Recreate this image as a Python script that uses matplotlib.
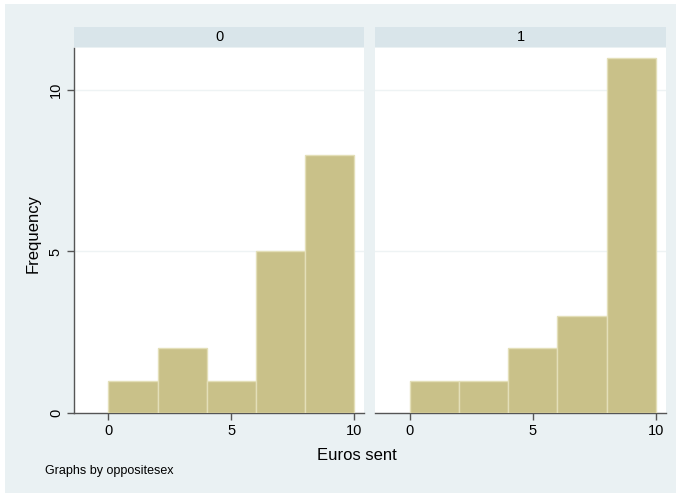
import matplotlib
matplotlib.use("Agg")
import matplotlib.pyplot as plt
from matplotlib.patches import Rectangle
import numpy as np

plt.rcParams['font.family'] = ['Liberation Sans', 'DejaVu Sans']

# histogram bins (euros sent) and frequencies for each oppositesex group
bin_edges = [0, 2, 4, 6, 8, 10]
groups = ["0", "1"]
freq_0 = [1, 2, 1, 5, 8]
freq_1 = [1, 1, 2, 3, 11]
yticks = [0, 5, 10]
xticks = [0, 5, 10]

bar_color = '#c9c189'
bar_edge = '#e3dfb8'
outer_bg = '#eaf1f3'
strip_bg = '#d9e5ea'
grid_color = '#eef3f4'
axis_color = '#555555'

W, H = 680, 497
fig = plt.figure(figsize=(W / 100, H / 100), dpi=100)
fig.patch.set_facecolor('white')
fig.patches.append(Rectangle((5 / W, 1 - 493 / H), 671 / W, 489 / H,
                             transform=fig.transFigure, facecolor=outer_bg,
                             edgecolor='none', zorder=-10))

def px(x0, x1, y0, y1):
    return [x0 / W, 1 - y1 / H, (x1 - x0) / W, (y1 - y0) / H]

panels = [(74, 364), (375, 666)]
for i, (freqs, (x0, x1)) in enumerate(zip([freq_0, freq_1], panels)):
    ax = fig.add_axes(px(x0, x1, 48, 413))
    ax.set_facecolor('white')
    lefts = np.array(bin_edges[:-1])
    widths = np.diff(bin_edges)
    ax.bar(lefts, freqs, width=widths, align='edge', color=bar_color,
           edgecolor=bar_edge, linewidth=1.0, zorder=3)
    ax.set_xlim(-1.4, 10.4)
    ax.set_ylim(0, 11.3)
    for y in yticks[1:]:
        ax.axhline(y, color=grid_color, linewidth=1.0, zorder=1)
    for s in ['top', 'right']:
        ax.spines[s].set_visible(False)
    ax.spines['bottom'].set_color(axis_color)
    ax.spines['bottom'].set_linewidth(1.0)
    ax.set_xticks(xticks)
    ax.tick_params(axis='x', direction='out', length=5, width=1.0,
                   color=axis_color, labelsize=10.5, pad=3)
    if i == 0:
        ax.spines['left'].set_color(axis_color)
        ax.spines['left'].set_linewidth(1.0)
        ax.set_yticks(yticks)
        ax.set_yticklabels([str(t) for t in yticks], rotation=90, va='center')
        ax.tick_params(axis='y', direction='out', length=5, width=1.0,
                       color=axis_color, labelsize=10.5, pad=3)
    else:
        ax.spines['left'].set_visible(False)
        ax.set_yticks([])

    # group strip above each panel
    sx = fig.add_axes(px(x0, x1, 27, 47))
    sx.set_facecolor(strip_bg)
    sx.set_xticks([])
    sx.set_yticks([])
    for s in sx.spines.values():
        s.set_visible(False)
    sx.text(0.5, 0.5, groups[i], ha='center', va='center', fontsize=10.5,
            transform=sx.transAxes)

fig.text(33 / W, 1 - 233 / H, "Frequency", rotation=90, ha='center',
         va='center', fontsize=12)
fig.text(357 / W, 1 - 455 / H, "Euros sent", ha='center', va='center',
         fontsize=12)
fig.text(45 / W, 1 - 471 / H, "Graphs by oppositesex", ha='left',
         va='center', fontsize=9)

fig.savefig("out.png", dpi=100, facecolor=fig.get_facecolor())
